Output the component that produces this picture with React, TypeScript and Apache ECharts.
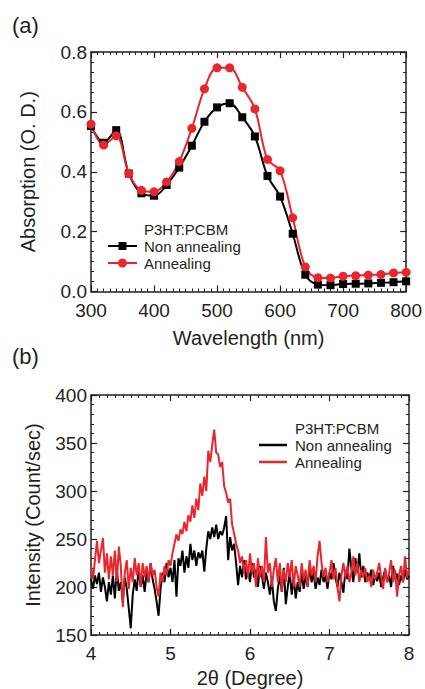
import React, { useEffect, useRef } from "react";
import * as echarts from "echarts";

// ---------- (a) UV-vis absorption ----------
const wavelengths = [300, 320, 340, 360, 380, 400, 420, 440, 460, 480, 500, 520, 540, 560, 580, 600, 620, 640, 660, 680, 700, 720, 740, 760, 780, 800];
const absNonAnnealing = [0.553, 0.497, 0.539, 0.394, 0.328, 0.32, 0.356, 0.414, 0.487, 0.567, 0.615, 0.629, 0.582, 0.518, 0.386, 0.317, 0.193, 0.056, 0.023, 0.021, 0.025, 0.026, 0.027, 0.029, 0.031, 0.034];
const absAnnealing = [0.559, 0.489, 0.52, 0.394, 0.338, 0.333, 0.366, 0.434, 0.545, 0.677, 0.747, 0.747, 0.682, 0.61, 0.441, 0.403, 0.246, 0.082, 0.046, 0.045, 0.051, 0.053, 0.055, 0.057, 0.062, 0.064];

// ---------- (b) XRD ----------
const twoThetaStart = 4;
const twoThetaStep = 0.025;
const xrdNonAnnealing = [
  208, 198, 212, 203, 215, 195, 210, 200, 185, 205, 192, 212, 188, 218, 196, 205, 185, 210, 198, 178,
  157, 192, 208, 196, 220, 200, 212, 195, 215, 205, 225, 208, 198, 185, 170, 198, 215, 205, 225, 210,
  220, 205, 228, 190, 230, 222, 238, 215, 232, 220, 245, 228, 238, 222, 236, 230, 238, 216, 240, 258,
  250, 262, 252, 265, 250, 258, 254, 262, 274, 228, 252, 238, 245, 225, 202, 222, 210, 228, 208, 218,
  205, 225, 210, 218, 200, 222, 212, 198, 215, 205, 192, 208, 185, 175, 198, 212, 195, 220, 182, 200,
  215, 192, 210, 188, 205, 195, 215, 198, 212, 200, 222, 205, 215, 198, 210, 202, 218, 205, 212, 198,
  215, 208, 225, 210, 200, 215, 205, 194, 218, 208, 240, 220, 205, 230, 215, 235, 210, 222, 205, 215,
  208, 218, 202, 212, 206, 215, 200, 210, 218, 205, 212, 200, 222, 208, 214, 202, 212, 205, 218, 208,
  212,
];
const xrdAnnealing = [
  222, 208, 228, 248, 225, 238, 251, 215, 235, 208, 232, 212, 238, 205, 242, 222, 179, 215, 228, 198,
  220, 205, 230, 212, 225, 200, 225, 210, 222, 205, 225, 212, 218, 200, 190, 215, 205, 222, 212, 228,
  222, 235, 245, 255, 248, 260, 255, 268, 258, 275, 268, 285, 272, 292, 280, 308, 295, 315, 300, 342,
  330, 348, 364, 340, 338, 325, 330, 305, 298, 288, 292, 265, 256, 245, 238, 225, 232, 215, 228, 210,
  235, 215, 225, 200, 230, 210, 222, 205, 252, 215, 225, 200, 218, 230, 205, 225, 195, 218, 205, 225,
  210, 228, 200, 222, 212, 200, 225, 208, 218, 200, 228, 212, 222, 205, 232, 248, 225, 210, 220, 205,
  215, 228, 208, 220, 200, 185, 212, 225, 210, 222, 205, 215, 232, 212, 225, 205, 218, 210, 220, 205,
  212, 200, 218, 208, 215, 225, 210, 198, 220, 205, 215, 228, 205, 218, 190, 212, 222, 205, 232, 210,
  218,
];

const seriesNames = ["Non annealing", "Annealing"];
const legendTitle = "P3HT:PCBM";

const BLACK = "#000000";
const RED = "#e8262d";
const TEXT = "#231f20";
const FONT = "'Liberation Sans', Arial, Helvetica, sans-serif";

function pairs(xs: number[], ys: number[]) {
  return ys.map((y, i) => [xs[i], y]);
}
function xrdPairs(ys: number[]) {
  return ys.map((y, i) => [+(twoThetaStart + i * twoThetaStep).toFixed(3), y]);
}

function axisCommon(extra: any) {
  return {
    axisLine: { show: true, onZero: false, lineStyle: { color: TEXT, width: 1.5 } },
    axisTick: { show: true, inside: true, length: 6, lineStyle: { color: TEXT, width: 1.2 } },
    minorTick: { show: true, length: 3, lineStyle: { color: TEXT, width: 1 } },
    splitLine: { show: false },
    ...extra,
  };
}

export default function App() {
  const ref = useRef<HTMLDivElement>(null);
  useEffect(() => {
    if (!ref.current) return;
    const chart = echarts.init(ref.current, null, { renderer: "svg" });
    const labelStyle = { color: TEXT, fontSize: 19, fontFamily: FONT };
    const nameStyle = { color: TEXT, fontSize: 20, fontFamily: FONT };
    const minorA = { show: true, splitNumber: 10, length: 3, lineStyle: { color: TEXT, width: 1 } };
    const minorAy = { show: true, splitNumber: 6, length: 3, lineStyle: { color: TEXT, width: 1 } };
    const minorBx = { show: true, splitNumber: 10, length: 3, lineStyle: { color: TEXT, width: 1 } };
    const minorBy = { show: true, splitNumber: 5, length: 3, lineStyle: { color: TEXT, width: 1 } };

    const xA = { type: "value", min: 300, max: 800, interval: 100 };
    const yA = { type: "value", min: 0, max: 0.8, interval: 0.2 };
    const xB = { type: "value", min: 4, max: 8, interval: 1 };
    const yB = { type: "value", min: 150, max: 400, interval: 50 };

    const option: any = {
      animation: false,
      textStyle: { fontFamily: FONT },
      grid: [
        { left: 91, top: 52, width: 316, height: 239.5 },
        { left: 91, top: 395, width: 318, height: 243 },
      ],
      xAxis: [
        axisCommon({ ...xA, gridIndex: 0, position: "bottom", minorTick: minorA,
          axisLabel: { ...labelStyle, margin: 9, formatter: (v: number) => String(v) },
          name: "Wavelength (nm)", nameLocation: "middle", nameGap: 36, nameTextStyle: nameStyle }),
        axisCommon({ ...xA, gridIndex: 0, position: "top", minorTick: minorA, axisLabel: { show: false } }),
        axisCommon({ ...xB, gridIndex: 1, position: "bottom", minorTick: minorBx,
          axisLabel: { ...labelStyle, margin: 9 },
          name: "2θ (Degree)", nameLocation: "middle", nameGap: 33, nameTextStyle: nameStyle }),
        axisCommon({ ...xB, gridIndex: 1, position: "top", minorTick: minorBx, axisLabel: { show: false } }),
      ],
      yAxis: [
        axisCommon({ ...yA, gridIndex: 0, position: "left", minorTick: minorAy,
          axisLabel: { ...labelStyle, margin: 4, formatter: (v: number) => v.toFixed(1) },
          name: "Absorption (O. D.)", nameLocation: "middle", nameGap: 53, nameTextStyle: nameStyle }),
        axisCommon({ ...yA, gridIndex: 0, position: "right", minorTick: minorAy, axisLabel: { show: false } }),
        axisCommon({ ...yB, gridIndex: 1, position: "left", minorTick: minorBy,
          axisLabel: { ...labelStyle, margin: 4 },
          name: "Intensity (Count/sec)", nameLocation: "middle", nameGap: 48, nameTextStyle: nameStyle }),
        axisCommon({ ...yB, gridIndex: 1, position: "right", minorTick: minorBy, axisLabel: { show: false } }),
      ],
      series: [
        {
          name: seriesNames[0], type: "line", xAxisIndex: 0, yAxisIndex: 0,
          data: pairs(wavelengths, absNonAnnealing), smooth: 0.35,
          symbol: "rect", symbolSize: 8, showAllSymbol: true,
          lineStyle: { color: BLACK, width: 2 }, itemStyle: { color: BLACK },
        },
        {
          name: seriesNames[1], type: "line", xAxisIndex: 0, yAxisIndex: 0,
          data: pairs(wavelengths, absAnnealing), smooth: 0.35,
          symbol: "circle", symbolSize: 9, showAllSymbol: true,
          lineStyle: { color: RED, width: 2 }, itemStyle: { color: RED },
        },
        {
          name: seriesNames[0] + " XRD", type: "line", xAxisIndex: 2, yAxisIndex: 2,
          data: xrdPairs(xrdNonAnnealing), showSymbol: false, symbol: "none",
          lineStyle: { color: BLACK, width: 2 },
        },
        {
          name: seriesNames[1] + " XRD", type: "line", xAxisIndex: 2, yAxisIndex: 2,
          data: xrdPairs(xrdAnnealing), showSymbol: false, symbol: "none",
          lineStyle: { color: RED, width: 2 },
        },
      ],
      graphic: [
        { type: "text", left: 12, top: 14, style: { text: "(a)", fontSize: 22, fill: TEXT, font: `22px ${FONT}` } },
        { type: "text", left: 12, top: 345, style: { text: "(b)", fontSize: 22, fill: TEXT, font: `22px ${FONT}` } },
        // legend (a)
        { type: "text", x: 144, y: 229, style: { text: legendTitle, font: `15px ${FONT}`, fill: TEXT, verticalAlign: "middle" } },
        { type: "line", shape: { x1: 108, y1: 246, x2: 137, y2: 246 }, style: { stroke: BLACK, lineWidth: 2 } },
        { type: "rect", shape: { x: 118.5, y: 242, width: 8, height: 8 }, style: { fill: BLACK } },
        { type: "text", x: 144, y: 246, style: { text: seriesNames[0], font: `15px ${FONT}`, fill: TEXT, verticalAlign: "middle" } },
        { type: "line", shape: { x1: 108, y1: 263, x2: 137, y2: 263 }, style: { stroke: RED, lineWidth: 2 } },
        { type: "circle", shape: { cx: 122.5, cy: 263, r: 4.5 }, style: { fill: RED } },
        { type: "text", x: 144, y: 263, style: { text: seriesNames[1], font: `15px ${FONT}`, fill: TEXT, verticalAlign: "middle" } },
        // legend (b)
        { type: "text", x: 295, y: 428, style: { text: legendTitle, font: `15px ${FONT}`, fill: TEXT, verticalAlign: "middle" } },
        { type: "line", shape: { x1: 259, y1: 445, x2: 287, y2: 445 }, style: { stroke: BLACK, lineWidth: 2.5 } },
        { type: "text", x: 295, y: 445, style: { text: seriesNames[0], font: `15px ${FONT}`, fill: TEXT, verticalAlign: "middle" } },
        { type: "line", shape: { x1: 259, y1: 462, x2: 287, y2: 462 }, style: { stroke: RED, lineWidth: 2.5 } },
        { type: "text", x: 295, y: 462, style: { text: seriesNames[1], font: `15px ${FONT}`, fill: TEXT, verticalAlign: "middle" } },
      ],
    };
    chart.setOption(option);
    return () => chart.dispose();
  }, []);
  return (
    <div
      ref={ref}
      style={{ position: "absolute", left: 0, top: 0, width: 425, height: 689, background: "#ffffff" }}
    />
  );
}
